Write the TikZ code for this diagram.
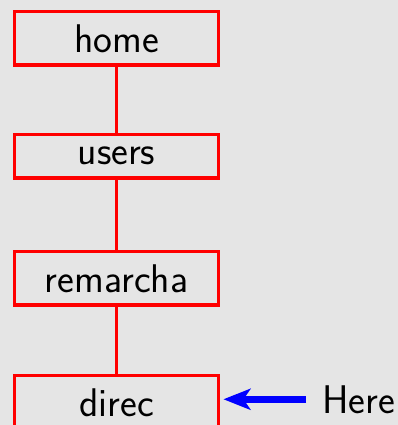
\documentclass[tikz,border=0pt]{standalone}
\usepackage{fontspec}
\usetikzlibrary{arrows.meta}
\definecolor{bg}{HTML}{E5E5E5}
\begin{document}
\begin{tikzpicture}[x=1pt,y=-1pt,
  dirbox/.style={draw=red,line width=3.3pt,minimum width=204pt,inner xsep=0pt,inner ysep=12.6pt,
    font=\sffamily\fontsize{40}{44}\selectfont,anchor=north},
  link/.style={red,line width=3.3pt},
  txt/.style={font=\sffamily\fontsize{40}{44}\selectfont,inner xsep=16pt,inner ysep=0pt,anchor=base west},
  pointer/.style={blue,line width=7pt,-{Stealth[length=27pt,width=21pt,inset=7pt]},shorten >=3.3pt}]
\fill[bg] (0,0) rectangle (398,425);
\useasboundingbox (0,0) rectangle (398,425);
\node[dirbox] (home) at (116.5,10) {home};
\node[dirbox] (users) at (116.5,133) {users};
\node[dirbox] (remarcha) at (116.5,250) {remarcha};
\node[dirbox] (direc) at (116.5,374) {direc};
\draw[link] (home) -- (users);
\draw[link] (users) -- (remarcha);
\draw[link] (remarcha) -- (direc);
\node[txt] (here) at (306,413) {Here};
\draw[pointer] (here.west) -- (here.west -| direc.east);
\end{tikzpicture}
\end{document}
